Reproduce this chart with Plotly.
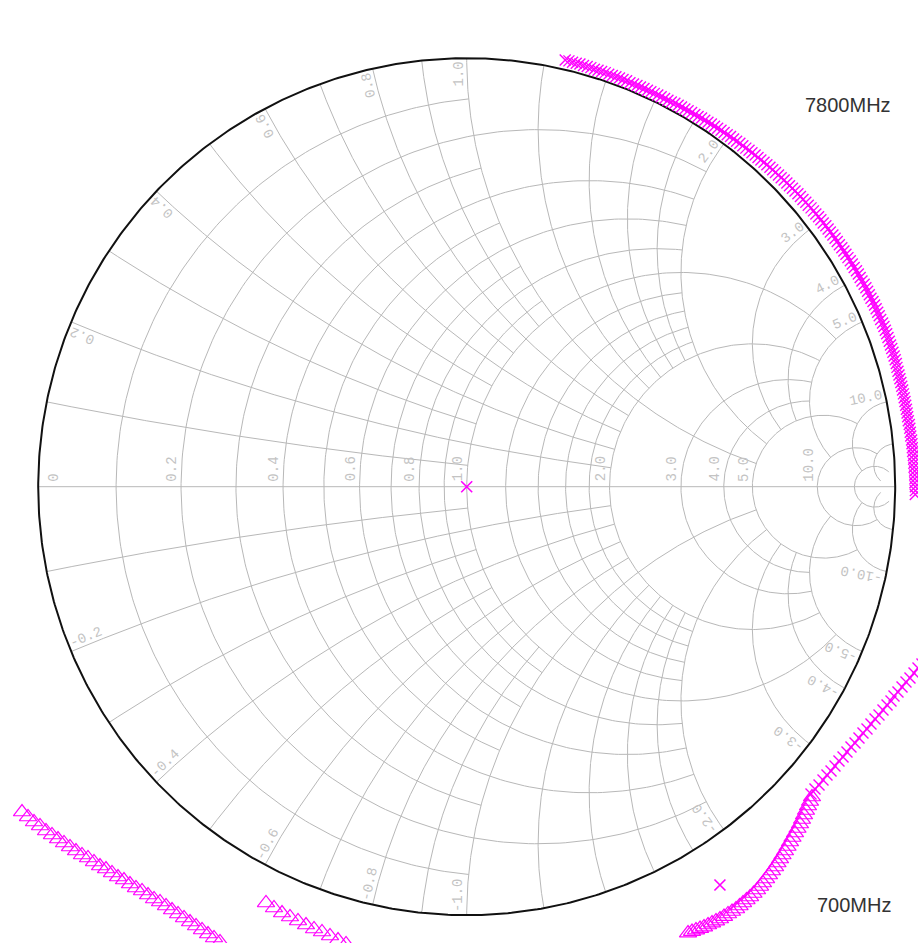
import numpy as np
import plotly.graph_objects as go

# ---------------- chart values ----------------
# constant-resistance circles and the |reactance| each circle is drawn out to
r_circles = [0.1, 0.2, 0.3, 0.4, 0.5, 0.6, 0.7, 0.8, 0.9, 1.0,
             1.2, 1.4, 1.6, 1.8, 2.0, 3.0, 4.0, 5.0, 10.0, 20.0]
r_reach = [1, 2, 1, 2, 1, 2, 1, 2, 1, 5,
           2, 2, 2, 2, 5, 5, 5, 10, 20, 50]
# constant-reactance arcs and the resistance each arc is drawn out to
x_arcs = [0.1, 0.2, 0.3, 0.4, 0.5, 0.6, 0.7, 0.8, 0.9, 1.0,
          1.2, 1.4, 1.6, 1.8, 2.0, 3.0, 4.0, 5.0, 10.0, 20.0]
x_reach = [1, 2, 1, 2, 1, 2, 1, 2, 1, 5,
           2, 2, 2, 2, 5, 5, 5, 10, 20, 50]

# axis labels
r_tick_vals = [0, 0.2, 0.4, 0.6, 0.8, 1.0, 2.0, 3.0, 4.0, 5.0, 10.0]
r_tick_text = ["0", "0.2", "0.4", "0.6", "0.8", "1.0", "2.0", "3.0", "4.0", "5.0", "10.0"]
x_tick_vals = [0.2, 0.4, 0.6, 0.8, 1.0, 2.0, 3.0, 4.0, 5.0, 10.0]
x_tick_text = ["0.2", "0.4", "0.6", "0.8", "1.0", "2.0", "3.0", "4.0", "5.0", "10.0"]

# reflection coefficient sweep along the upper arc (magnitude, angle in degrees)
arc_mag = [1.022, 1.022, 1.021, 1.021, 1.021, 1.020, 1.020, 1.020, 1.019, 1.019,
           1.019, 1.019, 1.018, 1.018, 1.018,
           1.018, 1.018, 1.018, 1.017, 1.017, 1.017, 1.017, 1.017, 1.017, 1.017,
           1.017, 1.017, 1.017, 1.017, 1.017, 1.017, 1.018, 1.018, 1.018, 1.018,
           1.018, 1.019, 1.019, 1.019, 1.020, 1.020, 1.020, 1.021, 1.021, 1.021,
           1.022, 1.022, 1.022, 1.023, 1.023, 1.023, 1.024, 1.024, 1.024, 1.025,
           1.025, 1.026, 1.026, 1.026, 1.027, 1.027, 1.028, 1.028, 1.028, 1.029,
           1.029, 1.030, 1.030, 1.030, 1.031, 1.031, 1.032, 1.032, 1.032, 1.033,
           1.033, 1.034, 1.034, 1.034, 1.035, 1.035, 1.035, 1.036, 1.036, 1.036,
           1.037, 1.037, 1.037, 1.037, 1.038, 1.038, 1.038, 1.038, 1.039, 1.039,
           1.039, 1.040, 1.040, 1.040, 1.040, 1.041, 1.041, 1.041, 1.041, 1.041,
           1.042, 1.042, 1.042, 1.042, 1.042, 1.042, 1.043, 1.043, 1.043, 1.043,
           1.043, 1.043, 1.043, 1.043, 1.043, 1.043, 1.043, 1.043, 1.042, 1.042,
           1.042, 1.042, 1.042, 1.042, 1.042, 1.042, 1.042, 1.042, 1.042, 1.042,
           1.042, 1.042, 1.042, 1.043, 1.043, 1.043, 1.043, 1.044, 1.044, 1.044,
           1.044, 1.045, 1.045, 1.045, 1.045, 1.046, 1.046, 1.046, 1.046, 1.047,
           1.047, 1.047]
arc_ang = [77.0, 76.5, 76.0, 75.5, 75.0, 74.5, 74.0, 73.5, 73.0, 72.5,
           72.0, 71.5, 71.0, 70.5, 70.0,
           69.5, 69.0, 68.5, 68.0, 67.5, 67.0, 66.5, 66.0, 65.5, 65.0,
           64.5, 64.0, 63.5, 63.0, 62.5, 62.0, 61.5, 61.0, 60.5, 60.0,
           59.5, 59.0, 58.5, 58.0, 57.5, 57.0, 56.5, 56.0, 55.5, 55.0,
           54.5, 54.0, 53.5, 53.0, 52.5, 52.0, 51.5, 51.0, 50.5, 50.0,
           49.5, 49.0, 48.5, 48.0, 47.5, 47.0, 46.5, 46.0, 45.5, 45.0,
           44.5, 44.0, 43.5, 43.0, 42.5, 42.0, 41.5, 41.0, 40.5, 40.0,
           39.5, 39.0, 38.5, 38.0, 37.5, 37.0, 36.5, 36.0, 35.5, 35.0,
           34.5, 34.0, 33.5, 33.0, 32.5, 32.0, 31.5, 31.0, 30.5, 30.0,
           29.5, 29.0, 28.5, 28.0, 27.5, 27.0, 26.5, 26.0, 25.5, 25.0,
           24.5, 24.0, 23.5, 23.0, 22.5, 22.0, 21.5, 21.0, 20.5, 20.0,
           19.5, 19.0, 18.5, 18.0, 17.5, 17.0, 16.5, 16.0, 15.5, 15.0,
           14.5, 14.0, 13.5, 13.0, 12.5, 12.0, 11.5, 11.0, 10.5, 10.0,
           9.5, 9.0, 8.5, 8.0, 7.5, 7.0, 6.5, 6.0, 5.5, 5.0,
           4.5, 4.0, 3.5, 3.0, 2.5, 2.0, 1.5, 1.0, 0.5, 0.0,
           -0.5, -1.0]

# lower-right rising segment (real, imaginary)
rise_re = [0.8035, 0.8128, 0.8222, 0.8315, 0.8408, 0.8502, 0.8595, 0.8688, 0.8782, 0.8875,
           0.8968, 0.9062, 0.9155, 0.9248, 0.9342, 0.9435, 0.9529, 0.9622, 0.9715, 0.9809,
           0.9902, 0.9972, 1.0065, 1.0159, 1.0252, 1.0345, 1.0439, 1.0532, 1.0625]
rise_im = [-0.7172, -0.7055, -0.6961, -0.6845, -0.6728, -0.6635, -0.6518, -0.6401, -0.6308, -0.6191,
           -0.6075, -0.5981, -0.5865, -0.5748, -0.5655, -0.5538, -0.5421, -0.5328, -0.5211, -0.5094,
           -0.5001, -0.4884, -0.4791, -0.4674, -0.4558, -0.4464, -0.4348, -0.4231, -0.4138]

# single markers
mark_re = [0.0, 0.591]
mark_im = [0.0, -0.9295]

# second trace, lower right (real, imaginary)
tri_r_re = [0.8058, 0.8012, 0.7965, 0.7918, 0.7872, 0.7825, 0.7778, 0.7720, 0.7662, 0.7603,
            0.7545, 0.7487, 0.7428, 0.7370, 0.7312, 0.7253, 0.7195, 0.7125, 0.7055, 0.6985,
            0.6915, 0.6845, 0.6775, 0.6693, 0.6612, 0.6530, 0.6448, 0.6367, 0.6285, 0.6192,
            0.6098, 0.6005, 0.5911, 0.5818, 0.5725, 0.5632, 0.5538, 0.5445, 0.5351, 0.5258,
            0.5165]
tri_r_im = [-0.7242, -0.7347, -0.7452, -0.7557, -0.7662, -0.7767, -0.7872, -0.7977, -0.8082, -0.8187,
            -0.8292, -0.8397, -0.8502, -0.8595, -0.8689, -0.8782, -0.8875, -0.8969, -0.9062, -0.9155,
            -0.9249, -0.9330, -0.9412, -0.9494, -0.9575, -0.9645, -0.9715, -0.9785, -0.9855, -0.9914,
            -0.9972, -1.0031, -1.0089, -1.0136, -1.0183, -1.0229, -1.0276, -1.0311, -1.0346, -1.0381,
            -1.0416]

# second trace, lower left
tri_a_re = [-1.0378, -1.0238, -1.0098, -0.9958, -0.9818, -0.9678, -0.9538, -0.9398, -0.9258, -0.9118,
            -0.8978, -0.8838, -0.8698, -0.8558, -0.8418, -0.8278, -0.8138, -0.7998, -0.7858, -0.7718,
            -0.7577, -0.7437, -0.7297, -0.7157, -0.7017, -0.6877, -0.6737, -0.6597, -0.6457, -0.6317,
            -0.6177, -0.6037, -0.5897, -0.5757]
tri_a_im = [-0.7592, -0.7708, -0.7825, -0.7918, -0.8035, -0.8128, -0.8222, -0.8315, -0.8408, -0.8502,
            -0.8595, -0.8665, -0.8758, -0.8852, -0.8922, -0.9015, -0.9109, -0.9179, -0.9272, -0.9365,
            -0.9435, -0.9529, -0.9622, -0.9692, -0.9785, -0.9879, -0.9972, -1.0065, -1.0159, -1.0252,
            -1.0345, -1.0439, -1.0532, -1.0625]
tri_b_re = [-0.4684, -0.4497, -0.4310, -0.4124, -0.3937, -0.3750, -0.3563, -0.3377, -0.3190, -0.3003,
            -0.2816]
tri_b_im = [-0.9715, -0.9832, -0.9949, -1.0042, -1.0135, -1.0229, -1.0322, -1.0392, -1.0485, -1.0579,
            -1.0672]

# frequency annotations
freq_text = ["7800MHz", "700MHz"]
freq_x = [0.995, 0.995]
freq_y = [0.891, -0.976]

# ---------------- geometry ----------------
W, H = 918, 943
R_PX = 428.5                       # unit circle radius on screen
CX_PX, CY_PX = 466.7, 486.7        # chart centre on screen
x_rng = [-CX_PX / R_PX, (W - CX_PX) / R_PX]
y_rng = [-(H - CY_PX) / R_PX, CY_PX / R_PX]


def px(d):
    return d / R_PX


def gamma(z):
    return (z - 1) / (z + 1)


grid_x, grid_y = [], []
for r, reach in zip(r_circles, r_reach):
    lim = np.arctan(reach / (r + 1))
    phi = np.linspace(-lim, lim, 240)
    g = gamma(r + 1j * (r + 1) * np.tan(phi))
    grid_x += list(g.real) + [None]
    grid_y += list(g.imag) + [None]
for xv, reach in zip(x_arcs, x_reach):
    a = np.linspace(np.arctan(xv / (reach + 1)), np.arctan(xv), 240)
    rr = xv / np.tan(a) - 1
    for s in (1, -1):
        g = gamma(rr + 1j * s * xv)
        grid_x += list(g.real) + [None]
        grid_y += list(g.imag) + [None]
grid_x += [-1, 1, None]
grid_y += [0, 0, None]

t = np.linspace(0, 2 * np.pi, 721)

fig = go.Figure()
fig.add_trace(go.Scatter(x=grid_x, y=grid_y, mode="lines",
                         line=dict(color="#b8b8b8", width=1), hoverinfo="skip"))
fig.add_trace(go.Scatter(x=np.cos(t), y=np.sin(t), mode="lines",
                         line=dict(color="#111111", width=2), hoverinfo="skip"))

MAG = "#ff00ff"
arc = np.array(arc_mag) * np.exp(1j * np.radians(arc_ang))
xs = dict(symbol="x-thin", size=11, color=MAG, line=dict(color=MAG, width=1.4))
fig.add_trace(go.Scatter(x=arc.real, y=arc.imag, mode="markers", marker=xs, name="S11"))
fig.add_trace(go.Scatter(x=rise_re, y=rise_im, mode="markers", marker=xs, showlegend=False))
fig.add_trace(go.Scatter(x=mark_re, y=mark_im, mode="markers",
                         marker=dict(symbol="x-thin", size=11, color=MAG,
                                     line=dict(color=MAG, width=1.6)), showlegend=False))
ts = dict(symbol="triangle-up-open", size=15, color=MAG, line=dict(color=MAG, width=1.2))
for xr, yr in ((tri_r_re, tri_r_im), (tri_a_re, tri_a_im), (tri_b_re, tri_b_im)):
    fig.add_trace(go.Scatter(x=xr, y=yr, mode="markers", marker=ts, showlegend=False))

# ---------------- labels ----------------
LBL = dict(family="Liberation Mono, Courier New, monospace", size=14, color="#c3c3c3")
CH = 0.6 * LBL["size"]
ann = []
for v, txt in zip(r_tick_vals, r_tick_text):
    g = (v - 1) / (v + 1)
    L = len(txt) * CH
    cx = g + px(15) if v == 0 else g - px(8.5)
    ann.append(dict(x=cx, y=px(5 + L / 2), text=txt, textangle=-90))
for v, txt in zip(x_tick_vals, x_tick_text):
    P = gamma(1j * v)
    th = np.angle(P)
    L = len(txt) * CH
    u = np.exp(1j * th)
    c = P - u * px(L / 2 + 3) + 1j * u * px(8)
    ann.append(dict(x=c.real, y=c.imag, text=txt, textangle=-np.degrees(th)))
    Pb = np.conj(P)
    tb = np.angle(Pb)
    txt_b = "-" + txt
    L = len(txt_b) * CH
    u = -np.exp(1j * tb)
    c = Pb + u * px(L / 2 + 3) + 1j * u * px(8)
    ann.append(dict(x=c.real, y=c.imag, text=txt_b, textangle=-np.degrees(tb + np.pi)))
for a in ann:
    a.update(showarrow=False, xanchor="center", yanchor="middle", font=LBL)

for txt, fx, fy in zip(freq_text, freq_x, freq_y):
    ann.append(dict(x=fx, y=fy, text=txt, showarrow=False, xanchor="right", yanchor="middle",
                    font=dict(family="Arial, Liberation Sans, sans-serif", size=20, color="#333333")))

fig.update_layout(
    width=W, height=H, margin=dict(l=0, r=0, t=0, b=0),
    paper_bgcolor="white", plot_bgcolor="white", showlegend=False,
    xaxis=dict(range=x_rng, visible=False, fixedrange=True),
    yaxis=dict(range=y_rng, visible=False, fixedrange=True),
    annotations=ann,
)
fig.write_html("out.html")
